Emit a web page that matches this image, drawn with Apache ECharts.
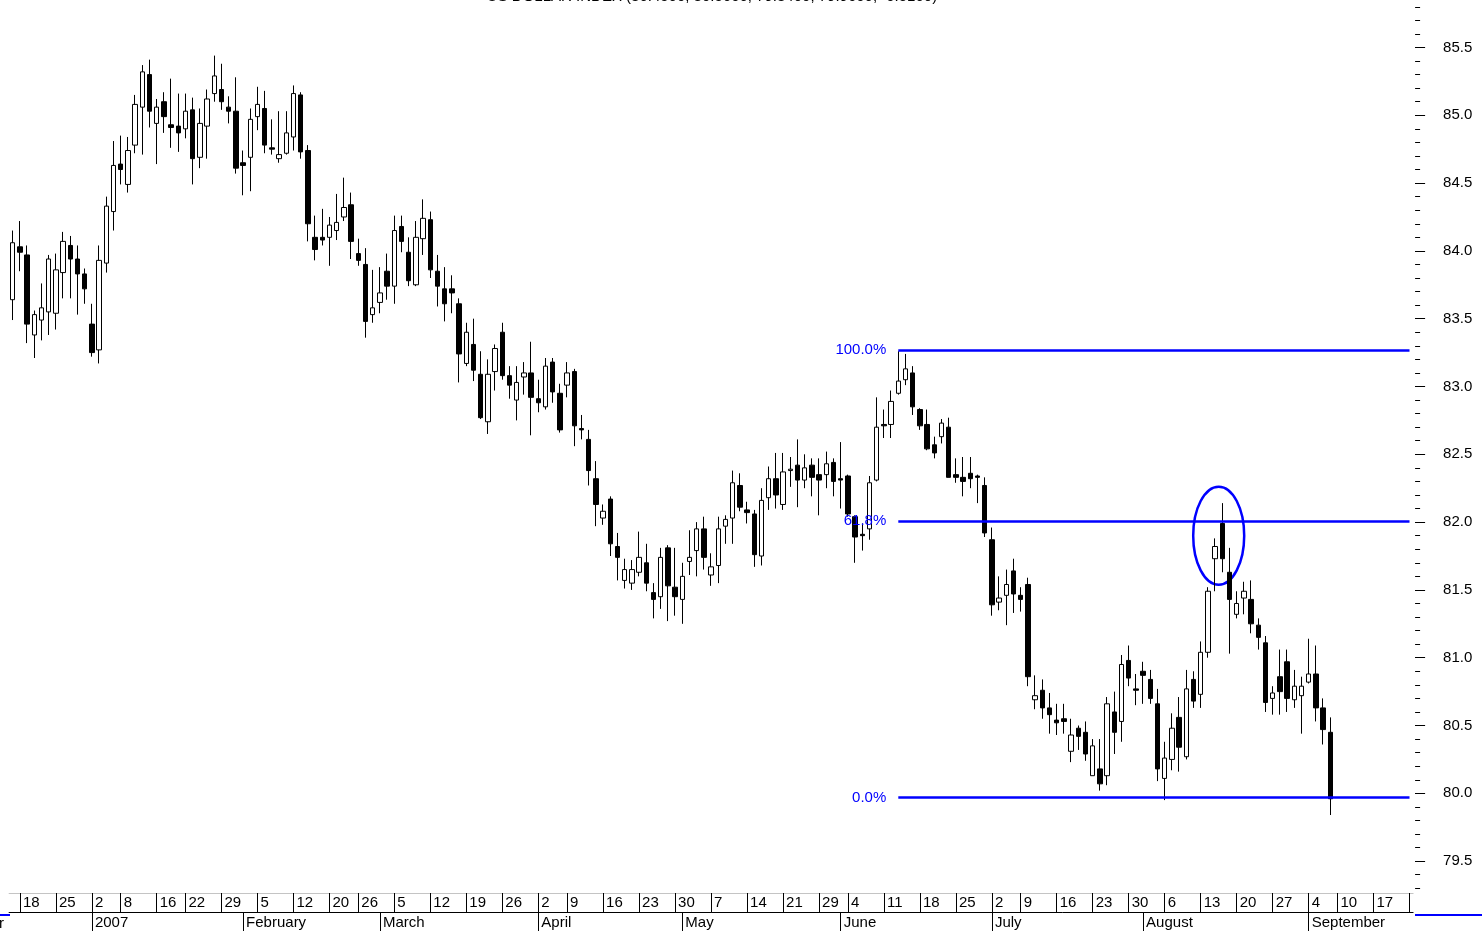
<!DOCTYPE html>
<html lang="en">
<head>
<meta charset="UTF-8">
<title>US Dollar Index</title>
<script src="https://cdn.jsdelivr.net/npm/echarts@6/dist/echarts.min.js"></script>
<style>
html, body { margin: 0; padding: 0; background: #fff; }
#container { width: 1482px; height: 931px; }
</style>
</head>
<body>
<div id="container"></div>
<script>
// trading days shown on the chart (Dec 15 2006 .. Sep 24 2007)
var dates = [
  '2006-12-15',
  '2006-12-18','2006-12-19','2006-12-20','2006-12-21','2006-12-22',
  '2006-12-25','2006-12-26','2006-12-27','2006-12-28','2006-12-29',
  '2007-01-02','2007-01-03','2007-01-04','2007-01-05',
  '2007-01-08','2007-01-09','2007-01-10','2007-01-11','2007-01-12',
  '2007-01-16','2007-01-17','2007-01-18','2007-01-19',
  '2007-01-22','2007-01-23','2007-01-24','2007-01-25','2007-01-26',
  '2007-01-29','2007-01-30','2007-01-31','2007-02-01','2007-02-02',
  '2007-02-05','2007-02-06','2007-02-07','2007-02-08','2007-02-09',
  '2007-02-12','2007-02-13','2007-02-14','2007-02-15','2007-02-16',
  '2007-02-20','2007-02-21','2007-02-22','2007-02-23',
  '2007-02-26','2007-02-27','2007-02-28','2007-03-01','2007-03-02',
  '2007-03-05','2007-03-06','2007-03-07','2007-03-08','2007-03-09',
  '2007-03-12','2007-03-13','2007-03-14','2007-03-15','2007-03-16',
  '2007-03-19','2007-03-20','2007-03-21','2007-03-22','2007-03-23',
  '2007-03-26','2007-03-27','2007-03-28','2007-03-29','2007-03-30',
  '2007-04-02','2007-04-03','2007-04-04','2007-04-05',
  '2007-04-09','2007-04-10','2007-04-11','2007-04-12','2007-04-13',
  '2007-04-16','2007-04-17','2007-04-18','2007-04-19','2007-04-20',
  '2007-04-23','2007-04-24','2007-04-25','2007-04-26','2007-04-27',
  '2007-04-30','2007-05-01','2007-05-02','2007-05-03','2007-05-04',
  '2007-05-07','2007-05-08','2007-05-09','2007-05-10','2007-05-11',
  '2007-05-14','2007-05-15','2007-05-16','2007-05-17','2007-05-18',
  '2007-05-21','2007-05-22','2007-05-23','2007-05-24','2007-05-25',
  '2007-05-29','2007-05-30','2007-05-31','2007-06-01',
  '2007-06-04','2007-06-05','2007-06-06','2007-06-07','2007-06-08',
  '2007-06-11','2007-06-12','2007-06-13','2007-06-14','2007-06-15',
  '2007-06-18','2007-06-19','2007-06-20','2007-06-21','2007-06-22',
  '2007-06-25','2007-06-26','2007-06-27','2007-06-28','2007-06-29',
  '2007-07-02','2007-07-03','2007-07-05','2007-07-06',
  '2007-07-09','2007-07-10','2007-07-11','2007-07-12','2007-07-13',
  '2007-07-16','2007-07-17','2007-07-18','2007-07-19','2007-07-20',
  '2007-07-23','2007-07-24','2007-07-25','2007-07-26','2007-07-27',
  '2007-07-30','2007-07-31','2007-08-01','2007-08-02','2007-08-03',
  '2007-08-06','2007-08-07','2007-08-08','2007-08-09','2007-08-10',
  '2007-08-13','2007-08-14','2007-08-15','2007-08-16','2007-08-17',
  '2007-08-20','2007-08-21','2007-08-22','2007-08-23','2007-08-24',
  '2007-08-27','2007-08-28','2007-08-29','2007-08-30','2007-08-31',
  '2007-09-04','2007-09-05','2007-09-06','2007-09-07',
  '2007-09-10','2007-09-11','2007-09-12','2007-09-13','2007-09-14',
  '2007-09-17','2007-09-18','2007-09-19','2007-09-20','2007-09-21',
  '2007-09-24'
];

var opens = [
  83.64,84.03,83.97,83.38,83.49,83.55,83.54,83.84,84.04,83.94,
  83.83,83.46,83.27,83.91,84.29,84.64,84.49,84.78,85.06,85.30,
  84.94,85.10,84.93,84.92,84.90,85.04,84.69,84.92,85.16,85.19,
  85.06,85.03,84.65,84.69,84.99,85.05,84.76,84.68,84.72,84.84,
  85.15,84.74,84.10,84.10,84.10,84.15,84.25,84.34,83.98,83.90,
  83.53,83.62,83.85,83.74,84.18,83.99,83.75,84.09,84.23,83.85,
  83.72,83.72,83.61,83.17,83.31,83.09,82.74,83.11,83.40,83.08,
  82.90,83.07,83.10,82.91,82.85,83.18,82.95,83.01,83.11,82.69,
  82.61,82.32,82.03,82.17,81.82,81.57,81.55,81.63,81.70,81.48,
  81.45,81.81,81.52,81.43,81.71,81.79,81.95,81.61,81.68,81.97,
  82.03,82.27,82.09,82.06,81.75,82.18,82.32,82.13,82.38,82.42,
  82.31,82.42,82.35,82.35,82.44,82.32,82.34,82.04,81.91,81.95,
  82.31,82.72,82.72,82.95,83.05,83.10,82.83,82.72,82.57,82.63,
  82.70,82.35,82.33,82.36,82.34,82.27,81.87,81.41,81.46,81.64,
  81.46,81.54,80.69,80.76,80.63,80.54,80.55,80.31,80.48,80.45,
  80.13,80.18,80.13,80.60,80.53,80.98,80.77,80.90,80.84,80.66,
  80.11,80.25,80.56,80.27,80.84,80.73,81.04,81.73,81.99,81.63,
  81.32,81.44,81.43,81.24,81.11,80.70,80.86,80.97,80.69,80.72,
  80.82,80.88,80.63,80.45
];
var highs = [
  84.15,84.22,84.04,83.56,83.76,83.97,83.98,84.14,84.11,84.04,
  83.87,83.61,84.04,84.40,84.81,84.85,84.84,85.15,85.37,85.41,
  85.12,85.17,85.27,85.16,85.16,85.13,85.05,85.19,85.44,85.38,
  85.14,85.28,84.74,85.05,85.21,85.18,84.97,85.03,85.03,85.22,
  85.17,84.78,84.26,84.31,84.25,84.42,84.54,84.43,84.09,84.02,
  83.86,83.88,83.98,84.26,84.26,84.10,84.22,84.38,84.29,83.97,
  83.88,83.82,83.65,83.47,83.50,83.26,83.20,83.31,83.47,83.15,
  83.15,83.18,83.33,83.05,83.21,83.21,83.02,83.18,83.13,82.79,
  82.68,82.45,82.13,82.19,81.92,81.73,81.72,81.93,81.84,81.55,
  81.81,81.83,81.81,81.70,81.94,82.00,82.04,81.77,82.04,82.05,
  82.38,82.36,82.15,82.09,82.25,82.41,82.51,82.51,82.48,82.61,
  82.50,82.47,82.47,82.52,82.47,82.59,82.35,82.05,81.99,82.34,
  82.92,82.83,82.97,83.26,83.24,83.15,82.84,82.83,82.63,82.76,
  82.77,82.47,82.48,82.48,82.35,82.33,81.96,81.60,81.65,81.73,
  81.52,81.59,80.87,80.84,80.74,80.66,80.66,80.55,80.50,80.53,
  80.40,80.40,80.71,80.75,81.02,81.09,80.88,80.97,80.91,80.77,
  80.38,80.59,80.71,80.91,80.90,81.12,81.52,81.88,82.14,81.81,
  81.49,81.56,81.57,81.29,81.16,80.79,81.06,81.06,80.91,80.86,
  81.14,81.09,80.70,80.56
];
var lows = [
  83.49,83.85,83.32,83.21,83.34,83.38,83.42,83.65,83.65,83.53,
  83.61,83.22,83.17,83.84,84.15,84.49,84.43,84.72,84.71,84.91,
  84.64,84.87,84.76,84.73,84.83,84.49,84.61,84.68,85.10,85.04,
  84.94,84.57,84.41,84.44,84.89,84.72,84.71,84.65,84.71,84.74,
  84.68,84.07,83.93,84.04,83.89,84.08,84.22,83.94,83.89,83.36,
  83.47,83.54,83.64,83.61,83.99,83.74,83.74,83.97,83.80,83.59,
  83.48,83.54,83.03,83.15,83.04,82.76,82.65,82.97,83.05,82.91,
  82.75,82.94,82.64,82.81,82.83,82.88,82.66,82.92,82.56,82.61,
  82.27,81.97,81.98,81.75,81.57,81.51,81.50,81.60,81.49,81.29,
  81.36,81.27,81.31,81.25,81.61,81.60,81.65,81.53,81.55,81.84,
  81.84,82.08,81.99,81.67,81.68,82.09,82.10,82.09,82.26,82.11,
  82.25,82.19,82.05,82.25,82.19,82.10,82.04,81.70,81.79,81.87,
  82.30,82.62,82.62,82.94,83.01,82.79,82.68,82.53,82.47,82.58,
  82.33,82.29,82.19,82.25,82.14,81.89,81.31,81.35,81.24,81.33,
  81.34,80.79,80.62,80.55,80.44,80.43,80.44,80.23,80.32,80.24,
  80.13,80.02,80.06,80.29,80.38,80.79,80.65,80.66,80.66,80.09,
  79.95,80.17,80.16,80.25,80.63,80.63,81.00,81.49,81.63,81.03,
  81.29,81.32,81.18,81.06,80.60,80.58,80.58,80.60,80.63,80.44,
  80.81,80.53,80.36,79.84
];
var closes = [
  84.06,83.99,83.46,83.53,83.58,83.94,83.86,84.07,83.94,83.83,
  83.72,83.25,83.93,84.33,84.63,84.60,84.74,85.08,85.32,85.03,
  85.06,84.99,84.91,84.87,85.03,84.68,84.94,85.12,85.29,85.10,
  85.03,84.61,84.63,84.97,85.08,84.78,84.75,84.71,84.87,85.16,
  84.73,84.20,84.01,84.08,84.19,84.21,84.32,84.07,83.93,83.48,
  83.58,83.69,83.74,84.15,84.07,83.78,84.10,84.24,83.86,83.74,
  83.61,83.69,83.24,83.40,83.12,82.77,83.09,83.28,83.08,83.01,
  83.03,83.10,82.92,82.88,83.15,82.96,82.68,83.10,82.71,82.68,
  82.38,82.13,82.08,81.84,81.74,81.65,81.65,81.74,81.55,81.43,
  81.74,81.53,81.45,81.60,81.74,81.95,81.74,81.67,81.95,82.02,
  82.29,82.11,82.07,81.76,82.16,82.32,82.20,82.37,82.39,82.31,
  82.40,82.33,82.31,82.43,82.30,82.31,82.06,81.89,81.90,82.29,
  82.70,82.71,82.89,83.04,83.13,82.85,82.71,82.54,82.51,82.73,
  82.33,82.33,82.30,82.32,82.33,81.92,81.39,81.44,81.54,81.47,
  81.43,80.86,80.72,80.63,80.58,80.52,80.53,80.43,80.42,80.29,
  80.35,80.07,80.66,80.45,80.95,80.85,80.76,80.87,80.70,80.18,
  80.26,80.48,80.34,80.77,80.68,81.04,81.49,81.82,81.73,81.43,
  81.40,81.49,81.25,81.15,80.67,80.74,80.75,80.70,80.79,80.79,
  80.88,80.63,80.47,79.96
];

// first trading day of each week (upper label row)
var weekStarts = [
  '2006-12-18','2006-12-25','2007-01-02','2007-01-08','2007-01-16','2007-01-22','2007-01-29',
  '2007-02-05','2007-02-12','2007-02-20','2007-02-26','2007-03-05','2007-03-12','2007-03-19',
  '2007-03-26','2007-04-02','2007-04-09','2007-04-16','2007-04-23','2007-04-30','2007-05-07',
  '2007-05-14','2007-05-21','2007-05-29','2007-06-04','2007-06-11','2007-06-18','2007-06-25',
  '2007-07-02','2007-07-09','2007-07-16','2007-07-23','2007-07-30','2007-08-06','2007-08-13',
  '2007-08-20','2007-08-27','2007-09-04','2007-09-10','2007-09-17','2007-09-24'
];
// first trading day of each month (lower label row)
var monthStarts = ['2007-01-02','2007-02-01','2007-03-01','2007-04-02','2007-05-01',
  '2007-06-01','2007-07-02','2007-08-01','2007-09-04'];
var monthNames = ['2007','February','March','April','May','June','July','August','September'];

var priceLabels = [79.5, 80.0, 80.5, 81.0, 81.5, 82.0, 82.5, 83.0, 83.5, 84.0, 84.5, 85.0, 85.5];
var priceMin = 79.265, priceMax = 85.85;

// fibonacci retracement drawn from the June high to the September low
var fibHigh = 83.27, fibLow = 79.97;
var fibStartDay = '2007-06-13';
var fibRatios = [1, 0.618, 0];
var fibTexts = ['100.0%', '61.8%', '0.0%'];

// the ellipse sits over the Aug 15 / Aug 16 bars
var circleDays = ['2007-08-15', '2007-08-16'];
var circleLevel = 81.9;

var titleText = 'US DOLLAR INDEX (80.4500, 80.5600, 79.8400, 79.9600, -0.5100)';

var FONT = '"Liberation Sans", Arial, Helvetica, sans-serif';
var BLUE = '#0000ff';

var minorTicks = [];
for (var t = 793; t <= 858; t++) minorTicks.push(t / 10);

var candleData = dates.map(function (d, i) {
    if (i >= opens.length) return '-';
    return [opens[i], closes[i], lows[i], highs[i]];
});

var fibLines = fibRatios.map(function (r, k) {
    var v = fibLow + r * (fibHigh - fibLow);
    return [
        { coord: [fibStartDay, v], label: { formatter: fibTexts[k] } },
        { coord: [dates[dates.length - 1], v] }
    ];
});

var dom = document.getElementById('container');
var myChart = echarts.init(dom, null, { renderer: 'canvas' });

var option = {
    animation: false,
    backgroundColor: '#fff',
    grid: {
        left: 9.1,
        right: 68.9,
        top: 0,
        bottom: 38,
        outerBoundsMode: 'none'
    },
    xAxis: [{
        type: 'category',
        data: dates,
        boundaryGap: true,
        position: 'bottom',
        axisLine: { show: true, lineStyle: { color: '#c4c4c4', width: 1 } },
        axisTick: {
            show: true,
            alignWithLabel: true,
            length: 19,
            interval: function (idx, val) { return weekStarts.indexOf(val) >= 0; },
            lineStyle: { color: '#000', width: 1 }
        },
        axisLabel: {
            show: true,
            interval: function (idx, val) { return weekStarts.indexOf(val) >= 0 && idx < dates.length - 1; },
            formatter: function (val) { return String(parseInt(val.slice(8), 10)); },
            align: 'left',
            padding: [0, 0, 0, 3],
            margin: 2,
            fontSize: 15,
            fontFamily: FONT,
            color: '#000'
        },
        splitLine: { show: false }
    }, {
        type: 'category',
        data: dates,
        boundaryGap: true,
        position: 'bottom',
        offset: 19,
        axisLine: { show: true, lineStyle: { color: '#000', width: 1 } },
        axisTick: {
            show: true,
            alignWithLabel: true,
            length: 19,
            interval: function (idx, val) { return monthStarts.indexOf(val) >= 0; },
            lineStyle: { color: '#000', width: 1 }
        },
        axisLabel: {
            show: true,
            interval: function (idx, val) { return monthStarts.indexOf(val) >= 0; },
            formatter: function (val) {
                var k = monthStarts.indexOf(val);
                return k >= 0 ? monthNames[k] : '';
            },
            align: 'left',
            padding: [0, 0, 0, 3],
            margin: 3,
            fontSize: 15,
            fontFamily: FONT,
            color: '#000'
        },
        splitLine: { show: false }
    }],
    yAxis: [{
        type: 'value',
        position: 'right',
        offset: 2,
        min: priceMin,
        max: priceMax,
        scale: true,
        axisLine: { show: false },
        splitLine: { show: false },
        axisTick: {
            show: true,
            customValues: priceLabels,
            length: 10,
            lineStyle: { color: '#000', width: 1 }
        },
        axisLabel: {
            show: true,
            customValues: priceLabels,
            formatter: function (v) { return v.toFixed(1); },
            margin: 28,
            padding: [2, 0, 0, 0],
            fontSize: 15,
            fontFamily: FONT,
            color: '#000'
        }
    }, {
        type: 'value',
        position: 'right',
        offset: 2,
        min: priceMin,
        max: priceMax,
        scale: true,
        axisLine: { show: false },
        splitLine: { show: false },
        axisTick: {
            show: true,
            customValues: minorTicks,
            length: 5,
            lineStyle: { color: '#000', width: 1 }
        },
        axisLabel: { show: false }
    }],
    series: [{
        name: 'US DOLLAR INDEX',
        type: 'candlestick',
        xAxisIndex: 0,
        yAxisIndex: 0,
        data: candleData,
        barWidth: 5,
        itemStyle: {
            color: '#ffffff',
            color0: '#000000',
            borderColor: '#000000',
            borderColor0: '#000000',
            borderWidth: 1
        },
        markLine: {
            silent: true,
            symbol: ['none', 'none'],
            animation: false,
            lineStyle: { color: BLUE, width: 2.5, type: 'solid' },
            label: {
                show: true,
                position: 'start',
                distance: 12,
                color: BLUE,
                fontSize: 15,
                fontFamily: FONT
            },
            emphasis: { disabled: true },
            data: fibLines
        }
    }]
};

myChart.setOption(option, true);

// circle marking the failed retest of the 61.8% level
var p1 = myChart.convertToPixel({ xAxisIndex: 0, yAxisIndex: 0 }, [circleDays[0], circleLevel]);
var p2 = myChart.convertToPixel({ xAxisIndex: 0, yAxisIndex: 0 }, [circleDays[1], circleLevel]);

myChart.setOption({
    graphic: [{
        type: 'ellipse',
        shape: { cx: (p1[0] + p2[0]) / 2, cy: p1[1], rx: 25.5, ry: 49 },
        style: { fill: 'none', stroke: BLUE, lineWidth: 2.5 },
        silent: true
    }, {
        type: 'text',
        x: 712,
        y: 4,
        style: {
            text: titleText,
            fill: '#000',
            font: '15px ' + FONT,
            textAlign: 'center',
            textVerticalAlign: 'bottom'
        },
        silent: true
    }, {
        type: 'text',
        x: 4,
        y: 916,
        style: {
            text: 'December',
            fill: '#000',
            font: '15px ' + FONT,
            textAlign: 'right',
            textVerticalAlign: 'top'
        },
        silent: true
    }, {
        type: 'line',
        shape: { x1: 0, y1: 915, x2: 10, y2: 915 },
        style: { stroke: BLUE, lineWidth: 2 },
        silent: true
    }, {
        type: 'line',
        shape: { x1: 1415, y1: 915, x2: 1482, y2: 915 },
        style: { stroke: BLUE, lineWidth: 2 },
        silent: true
    }]
});
</script>
</body>
</html>
